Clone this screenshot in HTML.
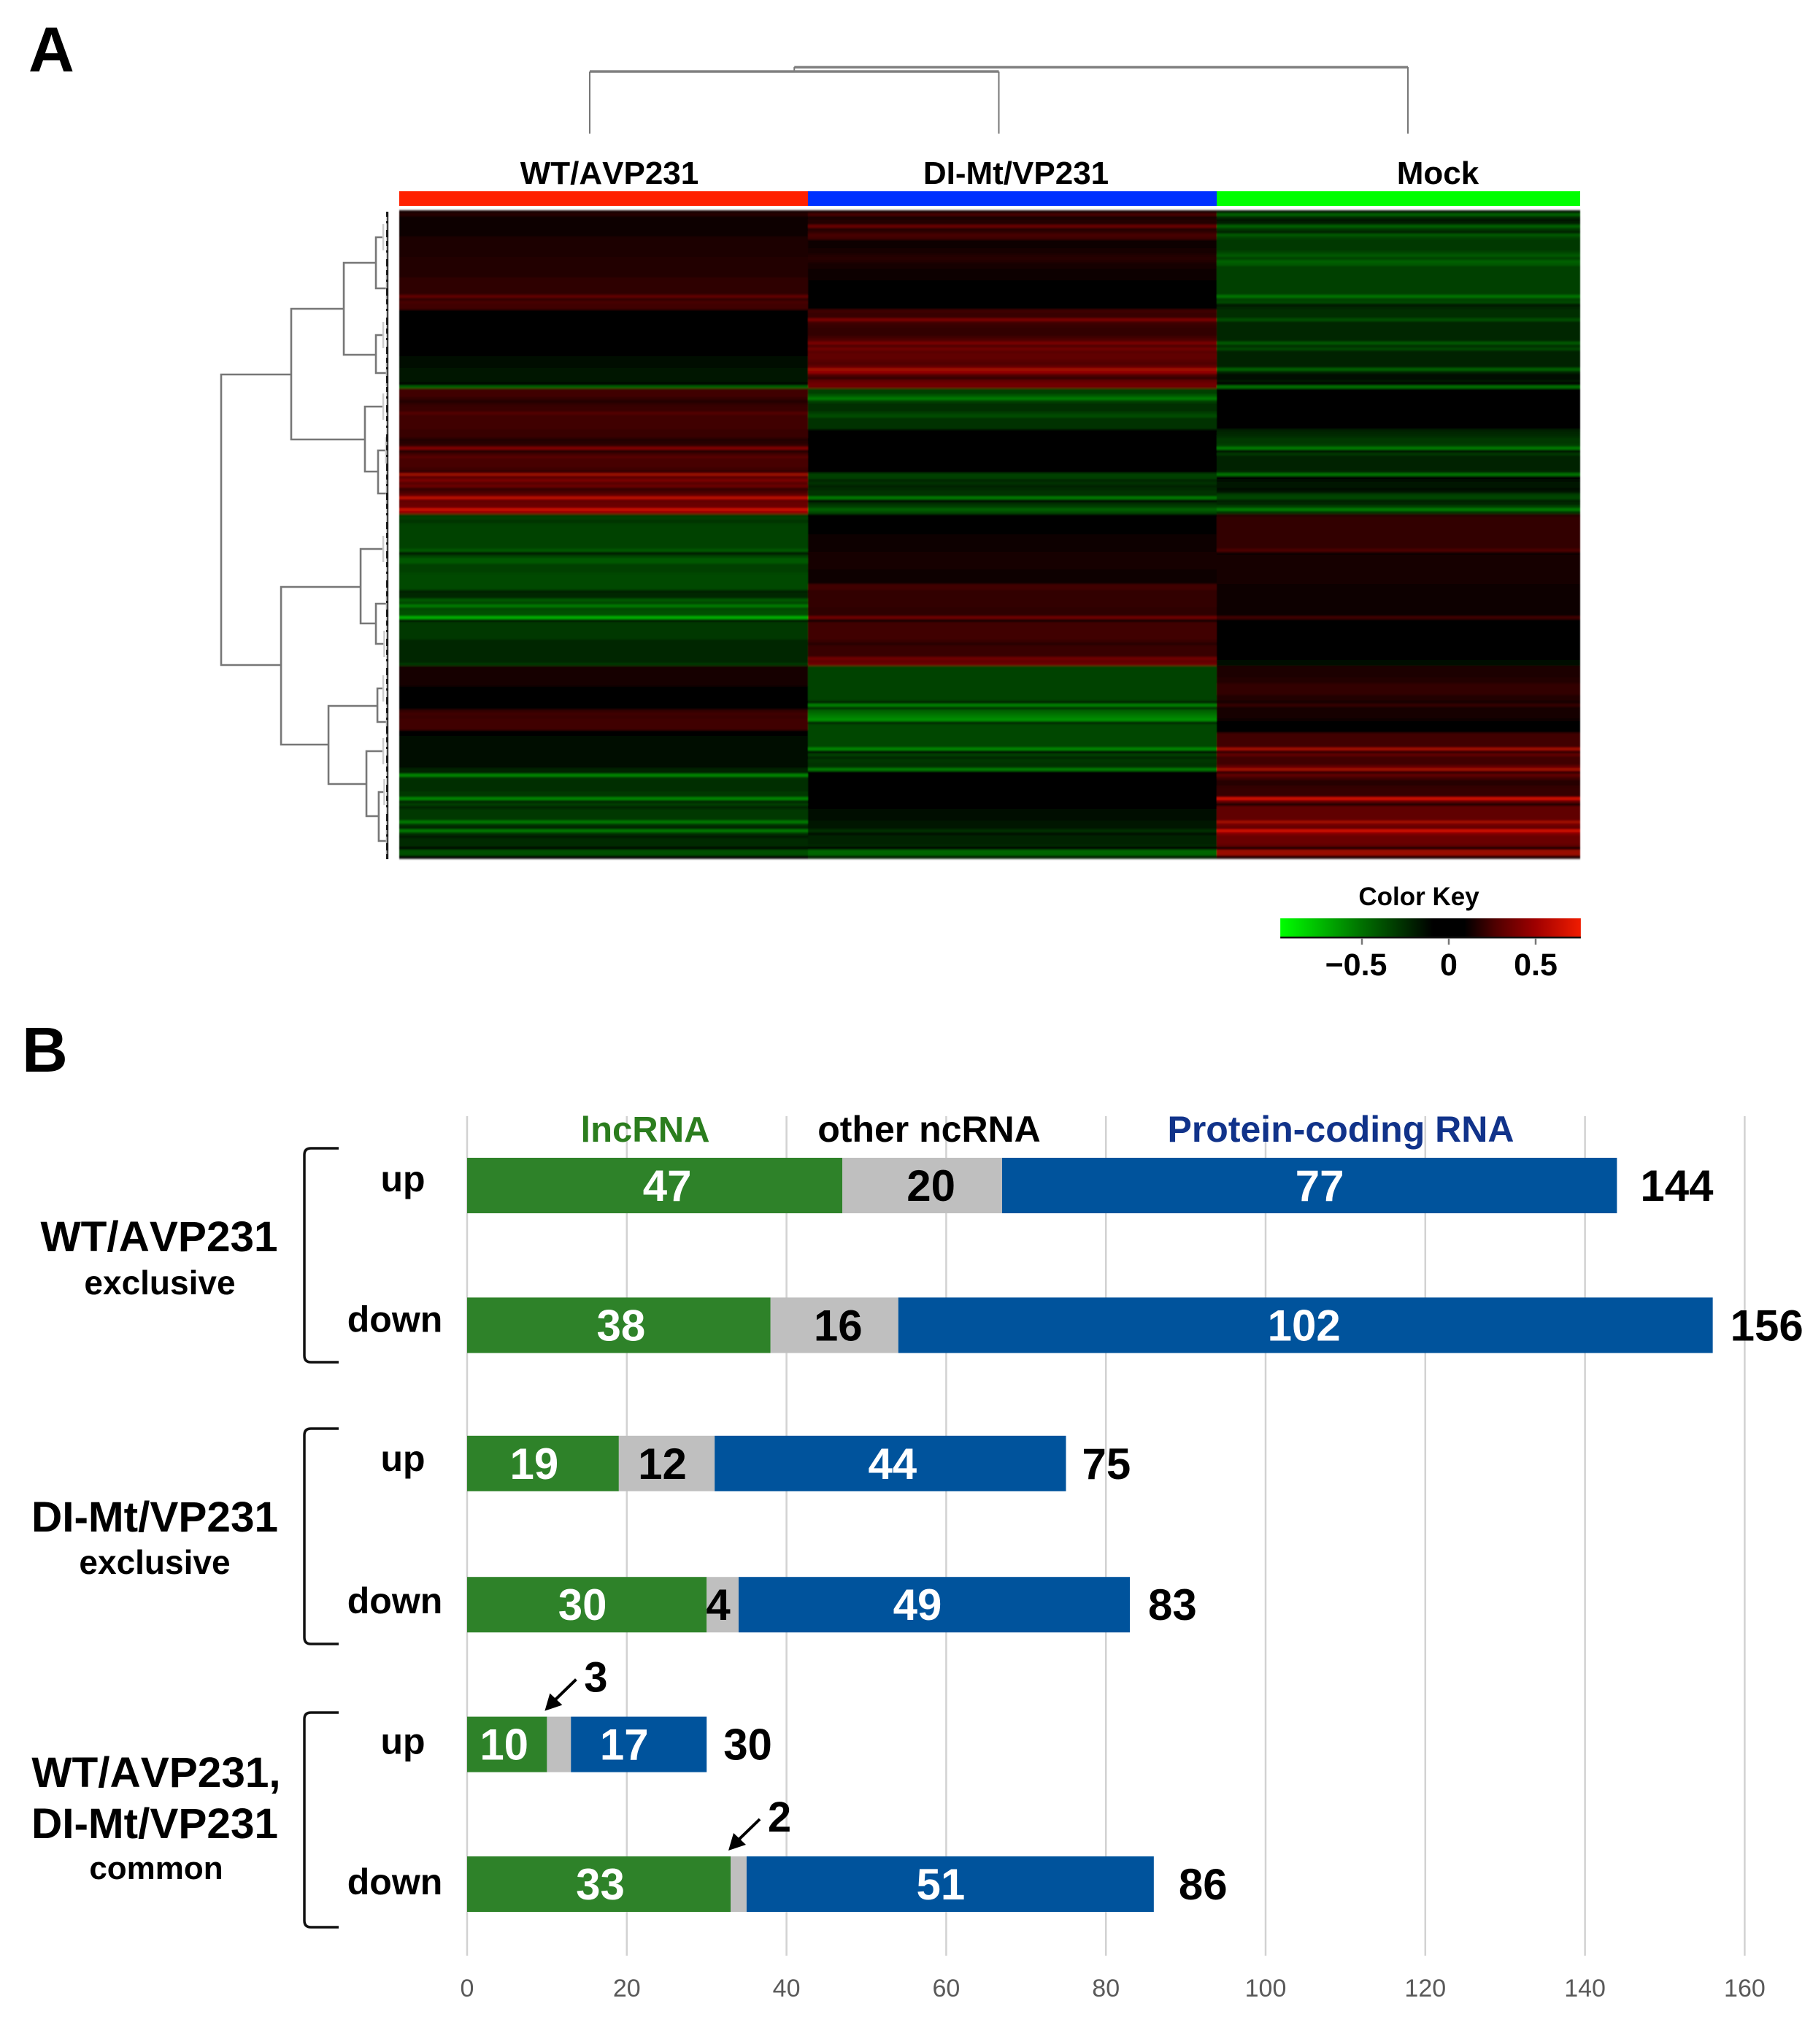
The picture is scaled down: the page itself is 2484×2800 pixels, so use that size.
<!DOCTYPE html>
<html lang="en">
<head>
<meta charset="utf-8">
<title>Heatmap and stacked bar chart of differentially expressed RNAs</title>
<style>
html,body{margin:0;padding:0;background:#fff;}
svg{display:block;font-family:"Liberation Sans",sans-serif;font-kerning:none;}
</style>
</head>
<body>
<svg id="figure" xmlns="http://www.w3.org/2000/svg" width="2484" height="2800" viewBox="0 0 2484 2800">
  <defs>
    <filter id="rowBlur" x="-1%" y="-1%" width="102%" height="102%"><feGaussianBlur stdDeviation="0.6 1.3"/></filter>
    <linearGradient id="keyGradient" x1="0" x2="1" y1="0" y2="0"></linearGradient>
  </defs>
  <rect x="0" y="0" width="2484" height="2800" fill="#fff"/>

  <text x="39" y="98" font-size="87" font-weight="700">A</text>
  <text x="30" y="1468" font-size="87" font-weight="700">B</text>

  <g id="topDendrogram"></g>
  <g id="leftDendrogram"></g>

  <text x="835" y="252" font-size="44" font-weight="700" text-anchor="middle">WT/AVP231</text>
  <text x="1392" y="252" font-size="44" font-weight="700" text-anchor="middle">DI-Mt/VP231</text>
  <text x="1970" y="252" font-size="44" font-weight="700" text-anchor="middle">Mock</text>

  <rect x="547" y="262" width="560" height="20" fill="#ff2000"/>
  <rect x="1107" y="262" width="560" height="20" fill="#0030ff"/>
  <rect x="1667" y="262" width="498" height="20" fill="#00ff00"/>

  <g id="heatmap" filter="url(#rowBlur)"></g>

  <text x="1944" y="1240" font-size="35" font-weight="700" text-anchor="middle">Color Key</text>
  <g id="colorKey"></g>

  <g id="barGrid"></g>
  <g id="barChart"></g>

  <text x="884" y="1564" font-size="49" font-weight="700" fill="#2b7d1e" text-anchor="middle">lncRNA</text>
  <text x="1273" y="1564" font-size="50" font-weight="700" fill="#000" text-anchor="middle">other ncRNA</text>
  <text x="1837" y="1564" font-size="50" font-weight="700" fill="#11338a" text-anchor="middle">Protein-coding RNA</text>

  <g>
    <path d="M464 1573 H426 Q417 1573 417 1582 V1857 Q417 1866 426 1866 H464" fill="none" stroke="#111" stroke-width="3.5"/>
    <text x="218" y="1714" font-size="58.5" font-weight="700" text-anchor="middle">WT/AVP231</text>
    <text x="219" y="1773" font-size="46" font-weight="700" text-anchor="middle">exclusive</text>
  </g>
  <g>
    <path d="M464 1957 H426 Q417 1957 417 1966 V2243 Q417 2252 426 2252 H464" fill="none" stroke="#111" stroke-width="3.5"/>
    <text x="212" y="2098" font-size="58.5" font-weight="700" text-anchor="middle">DI-Mt/VP231</text>
    <text x="212" y="2156" font-size="46" font-weight="700" text-anchor="middle">exclusive</text>
  </g>
  <g>
    <path d="M464 2346 H426 Q417 2346 417 2355 V2631 Q417 2640 426 2640 H464" fill="none" stroke="#111" stroke-width="3.5"/>
    <text x="214" y="2448" font-size="58.5" font-weight="700" text-anchor="middle">WT/AVP231,</text>
    <text x="212" y="2518" font-size="58.5" font-weight="700" text-anchor="middle">DI-Mt/VP231</text>
    <text x="214" y="2574" font-size="44" font-weight="700" text-anchor="middle">common</text>
  </g>
</svg>
<script>
// ---------- Heatmap data: one value per row, per condition ----------
const wtValues = [
  .08,.12,.04,.04,.04,.04,.04,.04,.04,.09,
  .09,.09,.09,.09,.09,.09,.1,.1,.1,.1,
  .1,.1,.1,.14,.14,.14,.14,.14,.14,.3,
  .15,.22,.2,.2,0,0,0,0,0,0,
  0,0,0,0,0,0,0,0,0,0,
  -.05,-.05,-.05,-.05,-.07,-.07,-.07,-.07,-.07,-.01,
  -.3,.2,.2,.2,.15,.1,.15,.18,.18,.26,
  .2,.2,.2,.2,.2,.18,.18,.18,.1,.12,
  .15,.4,.1,.2,.27,.22,.22,.22,.2,.15,
  .48,.27,.38,.27,.33,.15,.22,.3,.58,.3,
  .33,.33,.62,.45,-.18,-.2,-.15,-.2,-.21,-.21,
  -.21,-.21,-.21,-.21,-.21,-.21,-.28,-.08,-.2,-.28,
  -.28,-.2,-.2,-.2,-.22,-.23,-.23,-.23,-.23,-.23,
  -.1,-.12,-.12,-.28,-.22,-.38,-.22,-.25,-.25,-.55,
  -.08,-.18,-.18,-.18,-.18,-.18,-.18,-.12,-.12,-.12,
  -.12,-.12,-.12,-.12,-.12,-.18,.08,.08,.08,.08,
  .08,.08,.08,.01,.01,.01,.01,.01,.01,.01,
  .01,.15,.2,.18,.2,.2,.2,.2,0,-.02,
  -.03,-.03,-.03,-.03,-.03,-.03,-.03,-.03,-.03,-.03,
  -.03,-.1,-.1,-.42,-.15,-.14,-.14,-.14,-.14,-.18,
  -.18,-.42,-.1,-.2,-.1,-.18,-.18,-.18,-.18,-.38,
  -.15,-.1,-.38,-.15,-.08,-.13,-.13,-.13,-.01,-.25,
  -.25,-.02
];
const diValues = [
  .08,.22,.08,.1,.1,.33,.1,.15,.22,.2,
  .05,.05,.05,.07,.07,.1,.12,.1,.08,.08,
  .03,.03,.03,.03,0,0,0,0,0,0,
  0,0,0,0,.2,.18,.18,.38,.2,.18,
  .15,.15,.16,.2,.25,.38,.25,.35,.28,.3,
  .3,.28,.25,.3,.5,.45,.25,.15,.3,.35,
  .35,-.2,-.2,-.28,-.38,-.2,-.14,-.14,-.14,-.2,
  -.24,-.15,-.15,-.15,-.15,0,0,0,0,0,
  0,0,-.02,-.02,-.02,-.02,-.02,-.02,-.02,-.02,
  -.2,-.2,-.12,-.16,-.1,-.13,-.16,-.15,-.38,-.02,
  -.14,-.2,-.3,-.22,0,0,0,0,0,0,
  0,.03,.03,.03,.03,.03,.03,.08,.08,.08,
  .08,.08,.08,.05,.05,.05,.05,.05,.2,.2,
  .15,.15,.15,.15,.15,.15,.14,.14,.14,.35,
  .03,.2,.2,.2,.2,.2,.2,.18,.12,.18,
  .18,.18,.18,.35,.3,.35,-.21,-.21,-.21,-.21,
  -.21,-.21,-.21,-.21,-.21,-.21,-.21,-.21,-.1,-.4,
  -.15,-.3,-.35,-.4,-.45,-.12,-.22,-.22,-.22,-.22,
  -.22,-.22,-.22,-.22,-.42,-.05,-.2,-.12,-.18,-.16,
  -.16,-.38,0,0,0,0,0,0,0,0,
  -.01,-.01,-.01,-.01,-.01,-.03,-.03,-.03,-.03,-.08,
  -.08,-.08,-.15,-.04,-.1,-.1,-.1,-.12,-.01,-.32,
  -.32,-.1
];
const mockValues = [
  -.06,-.3,-.12,-.08,-.1,-.3,-.18,-.1,-.28,-.2,
  -.18,-.18,-.18,-.18,-.22,-.28,-.2,-.3,-.28,-.2,
  -.2,-.2,-.2,-.2,-.2,-.2,-.2,-.2,-.2,-.36,
  -.2,-.22,-.08,-.12,-.14,-.14,-.14,-.25,-.12,-.12,
  -.12,-.12,-.12,-.12,-.12,-.28,-.14,-.22,-.11,-.11,
  -.11,-.11,-.11,-.11,-.3,-.1,-.03,-.05,-.08,-.02,
  -.35,0,0,0,0,0,0,0,0,0,
  0,0,0,0,0,-.1,-.12,-.14,-.18,-.18,
  -.2,-.38,-.05,-.18,-.1,-.1,-.1,-.1,-.1,-.12,
  -.36,-.02,-.05,-.06,-.06,-.04,-.06,-.2,-.22,-.1,
  -.12,-.2,-.38,-.15,.12,.16,.16,.16,.16,.16,
  .16,.16,.16,.16,.16,.16,.24,.03,.08,.08,
  .08,.08,.08,.08,.08,.08,.08,.08,.03,.03,
  .03,.03,.03,.03,.03,.03,.03,.03,.03,.2,
  .02,0,0,0,0,0,0,0,0,0,
  0,0,0,-.02,-.03,-.03,.09,.09,.09,.09,
  .1,.11,.15,.15,.15,.15,.1,.1,.07,.17,
  .08,.06,.06,.06,.05,.01,.01,.01,.01,.2,
  .2,.2,.2,.2,.5,.15,.3,.2,.2,.2,
  .3,.5,.15,.3,.2,.12,.12,.15,.17,.17,
  .17,.65,.3,.08,.3,.3,.3,.3,.3,.5,
  .35,.3,.65,.4,.33,.33,.33,.3,.03,.48,
  .48,.1
];
const heatmapColumns = ['wt-avp231', 'di-mt-vp231', 'mock'];

// Row dendrogram merges: [height, topRow, topChildHeight, bottomRow, bottomChildHeight]
const rowMerges = [
  [100,56.25,57.9,155.75,64],
  [57.9,33.75,26.3,78.5,13.6],
  [26.3,18,7,49.5,7],
  [7,9.25,2.6,26.75,0.5],
  [7,42.75,2.6,55.75,0.5],
  [13.6,67.25,2.6,89.5,5.7],
  [5.7,82.25,1,97,0.5],
  [64,129,16.2,183,35.5],
  [16.2,116,2.6,141.5,7],
  [7,134.75,0.5,148.5,2],
  [35.5,169.75,6.1,196.5,12.7],
  [6.1,163.75,2.6,175.25,0.5],
  [12.7,185.25,2.6,207.5,5.3],
  [5.3,199.25,2,216,0.5]
];
// Column dendrogram merges: [height, leftCol, leftChildHeight, rightCol, rightChildHeight]
const columnMerges = [
  [100,0.5,93.4,2,0],
  [93.4,0,0,1,0]
];

// Color key
const keyValues = [-0.97,-0.5,-0.09,0.09,0.27,0.5,0.76];
const keyColors = ['#00ff00','#007000','#000000','#000000','#500000','#a00000','#f01c00'];
const keyTicks = [-0.5,0,0.5];
const keyTickLabels = ['\u22120.5','0','0.5'];

// ---------- Bar chart data ----------
const barCategories = ['up','down','up','down','up','down'];
const lncRNA = [47,38,19,30,10,33];
const otherNcRNA = [20,16,12,4,3,2];
const proteinCoding = [77,102,44,49,17,51];
const xTicks = [0,20,40,60,80,100,120,140,160];

// Hand-tuned label offsets (the reference labels are not centred in their segments)
const segmentLabelNudge = [[17,12,14],[3,5,-2],[-12,-6,3],[-6,-6,-23],[-4,0,-20],[2,0,-13]];
const totalLabelNudge = [6,-2,-4,-1,-3,8];

// ---------- Helpers ----------
const NS = 'http://www.w3.org/2000/svg';
function mk(parent, tag, props, text) {
  const el = document.createElementNS(NS, tag);
  for (const k in props) el.setAttribute(k, props[k]);
  if (text !== undefined) el.textContent = text;
  parent.appendChild(el);
  return el;
}
function heatColor(v) {
  const c = Math.round(Math.min(1, Math.abs(v) / 0.8) * 255);
  if (v >= 0) return 'rgb(' + c + ',' + Math.round(Math.max(0, c - 120) * 0.2) + ',0)';
  return 'rgb(0,' + c + ',0)';
}

// ---------- Heatmap ----------
const heatTop = 288, heatBottom = 1176;
const heatEdges = [547, 1107, 1667, 2165];
const heatG = document.getElementById('heatmap');
const rowCount = wtValues.length;
const rowY = r => heatTop + r * (heatBottom - heatTop) / rowCount;
[wtValues, diValues, mockValues].forEach((series, col) => {
  series.forEach((v, r) => {
    const cell = mk(heatG, 'rect', {
      x: heatEdges[col], y: rowY(r), width: heatEdges[col + 1] - heatEdges[col],
      height: rowY(r + 1) - rowY(r) + 0.5, fill: heatColor(v), 'shape-rendering': 'crispEdges'
    });
    
    
  });
});

// ---------- Row dendrogram ----------
const leftG = document.getElementById('leftDendrogram');
const dendX = h => 531 - h * 2.28;
const dendY = r => heatTop + r * 4;
rowMerges.forEach((m, i) => {
  const p = mk(leftG, 'path', {
    d: 'M' + dendX(m[2]) + ' ' + dendY(m[1]) + ' H' + dendX(m[0]) + ' V' + dendY(m[3]) + ' H' + dendX(m[4]),
    fill: 'none', stroke: '#777', 'stroke-width': 2.6
  });
  
  
  [[m[1], m[2]], [m[3], m[4]]].forEach(pair => {
    if (pair[1] <= 3) {
      const leaf = mk(leftG, 'path', {
        d: 'M' + dendX(pair[1]) + ' ' + dendY(pair[0] - 4.5) + ' V' + dendY(pair[0] + 4.5),
        fill: 'none', stroke: '#ccc', 'stroke-width': 2.5
      });
      
      
    }
  });
});
const baseGrey = mk(leftG, 'line', {x1: dendX(0), x2: dendX(0), y1: 290, y2: 1177, stroke: '#444', 'stroke-width': 2.5});


const baseDark = mk(leftG, 'line', {x1: dendX(0.3), x2: dendX(0.3), y1: 290, y2: 1177, stroke: '#111', 'stroke-width': 2.5, 'stroke-dasharray': '7 6 3 9 10 5'});



// ---------- Column dendrogram ----------
const topG = document.getElementById('topDendrogram');
const topX = c => 808 + c * 560.5;
const topY = h => 183 - h * 0.91;
columnMerges.forEach((m, i) => {
  const h = mk(topG, 'line', {x1: topX(m[1]), x2: topX(m[3]), y1: topY(m[0]), y2: topY(m[0]), stroke: '#808080', 'stroke-width': 3.5});
  
  
  const l = mk(topG, 'line', {x1: topX(m[1]), x2: topX(m[1]), y1: topY(m[0]), y2: topY(m[2]), stroke: '#777', 'stroke-width': 2});
  
  
  const r = mk(topG, 'line', {x1: topX(m[3]), x2: topX(m[3]), y1: topY(m[0]), y2: topY(m[4]), stroke: '#777', 'stroke-width': 2});
  
  
});

// ---------- Color key ----------
const keyX = v => 1985 + v * 238;
const keyG = document.getElementById('colorKey');
const grad = document.getElementById('keyGradient');
keyValues.forEach((v, i) => {
  mk(grad, 'stop', {offset: (v - keyValues[0]) / (keyValues[keyValues.length - 1] - keyValues[0]), 'stop-color': keyColors[i]});
});
const keyBar = mk(keyG, 'rect', {x: keyX(keyValues[0]), y: 1258, width: keyX(keyValues[keyValues.length - 1]) - keyX(keyValues[0]), height: 26, fill: 'url(#keyGradient)'});


const keyEdge = mk(keyG, 'rect', {x: keyX(keyValues[0]), y: 1283, width: keyX(keyValues[keyValues.length - 1]) - keyX(keyValues[0]), height: 2.5, fill: '#111'});


keyTicks.forEach((t, i) => {
  const tick = mk(keyG, 'line', {x1: keyX(t), x2: keyX(t), y1: 1285, y2: 1294, stroke: '#777', 'stroke-width': 2.5});
  
  
  const label = mk(keyG, 'text', {x: keyX(t) - (i === 0 ? 8 : 0), y: 1336, 'font-size': 43, 'font-weight': 700, 'text-anchor': 'middle'}, keyTickLabels[i]);
  
  
});

// ---------- Stacked bar chart ----------
const x = v => 640 + 10.94 * v;
const barCenter = i => 1624 + 191.4 * i - (i === 2 ? 2 : 0);
const barHeight = 76;
const gridTop = 1529, gridBottom = 2679;
const gridG = document.getElementById('barGrid');
const barG = document.getElementById('barChart');
xTicks.forEach(t => {
  const g = mk(gridG, 'line', {x1: x(t), x2: x(t), y1: gridTop, y2: gridBottom, stroke: '#d2d2d2', 'stroke-width': 2.5});
  
  
  const lab = mk(gridG, 'text', {x: x(t), y: 2735, 'font-size': 34, fill: '#595959', 'text-anchor': 'middle'}, String(t));
  
  
});

const seriesNames = ['lncrna', 'other-ncrna', 'protein-coding'];
const seriesColors = ['#2e8229', '#bfbfbf', '#00539c'];
const seriesText = ['#fff', '#000', '#fff'];
[lncRNA, otherNcRNA, proteinCoding].forEach((series, s) => {
  series.forEach((v, i) => {
    let start = 0;
    if (s > 0) start += lncRNA[i];
    if (s > 1) start += otherNcRNA[i];
    const bar = mk(barG, 'rect', {x: x(start), y: barCenter(i) - barHeight / 2, width: x(start + v) - x(start), height: barHeight, fill: seriesColors[s]});
    
    
    if (v > 3) {
      const lab = mk(barG, 'text', {x: x(start + v / 2) + segmentLabelNudge[i][s], y: barCenter(i) + 21, 'font-size': 60, 'font-weight': 700, fill: seriesText[s], 'text-anchor': 'middle'}, String(v));
      
      
    } else {
      const tipX = x(start) - 3, tipY = barCenter(i) - barHeight / 2 - 8;
      const tailX = tipX + 43, tailY = tipY - 43;
      const shaft = mk(barG, 'line', {x1: tailX, y1: tailY, x2: tipX + 10, y2: tipY - 11, stroke: '#000', 'stroke-width': 4});
      
      
      const head = mk(barG, 'polygon', {points: tipX + ',' + tipY + ' ' + (tipX + 7) + ',' + (tipY - 24) + ' ' + (tipX + 24) + ',' + (tipY - 8), fill: '#000'});
      
      
      const note = mk(barG, 'text', {x: tipX + 70, y: tipY - 26, 'font-size': 58, 'font-weight': 700, 'text-anchor': 'middle'}, String(v));
      
      
    }
  });
});
barCategories.forEach((c, i) => {
  const total = lncRNA[i] + otherNcRNA[i] + proteinCoding[i];
  const totalLabel = mk(barG, 'text', {x: x(total) + 26 + totalLabelNudge[i], y: barCenter(i) + 21, 'font-size': 60, 'font-weight': 700}, String(total));
  
  
  const cat = mk(barG, 'text', {x: c === 'up' ? 552 : 541, y: barCenter(i) + 8 + i * 1.2, 'font-size': 50, 'font-weight': 700, 'text-anchor': 'middle'}, c);
  
  
});
</script>
</body>
</html>
